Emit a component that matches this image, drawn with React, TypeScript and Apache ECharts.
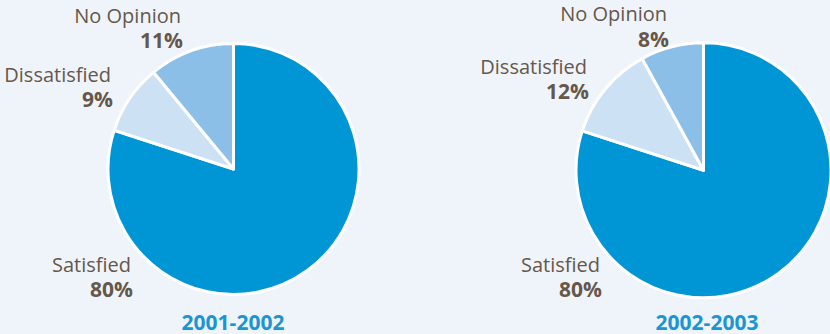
import React, { useEffect, useRef } from "react";
import * as echarts from "echarts";

const categories = ["Satisfied", "Dissatisfied", "No Opinion"];
const values2001 = [80, 9, 11];
const values2002 = [80, 12, 8];
const periods = ["2001-2002", "2002-2003"];

const colors = ["#0096d6", "#cde1f4", "#8bbfe7"];
const BG = "#eff4fb";
const TEXT = "#66574a";
const TITLE = "#1b95d3";

// layout for labels: [rightX, centerY] per category (two-line block)
const layouts = [
  {
    center: [233.5, 169],
    radius: 125.5,
    titleX: 233,
    pos: [
      [133, 276.5],
      [113, 86.5],
      [183, 27.5],
    ],
  },
  {
    center: [703.5, 170.3],
    radius: 127.5,
    titleX: 707,
    pos: [
      [602, 276.5],
      [589, 78.5],
      [669, 26],
    ],
  },
];

export default function App() {
  const ref = useRef<HTMLDivElement>(null);
  useEffect(() => {
    document.body.style.margin = "0";
    document.body.style.background = BG;
    const chart = echarts.init(ref.current!, null, { renderer: "svg" });
    const datasets = [values2001, values2002];
    const graphic: any[] = [];
    datasets.forEach((vals, si) => {
      const L = layouts[si];
      categories.forEach((c, i) => {
        const p = L.pos[i];
        graphic.push({
          type: "text",
          x: p[0],
          y: p[1],
          style: {
            text: `{a|${c}}\n{b|${vals[i]}%}`,
            fill: TEXT,
            textAlign: "right",
            textVerticalAlign: "middle",
            rich: {
              a: {
                fontFamily: "Open Sans",
                fontSize: 20,
                color: TEXT,
                lineHeight: 25,
                align: "right",
                padding: [0, 2, 0, 0],
              },
              b: {
                fontFamily: "Open Sans",
                fontWeight: "bold",
                fontSize: 21,
                color: TEXT,
                lineHeight: 25,
                align: "right",
              },
            },
          },
        });
      });
      graphic.push({
        type: "text",
        x: L.titleX,
        y: 321.5,
        style: {
          text: periods[si],
          fill: TITLE,
          fontFamily: "Open Sans",
          fontWeight: "bold",
          fontSize: 21,
          lineHeight: 22,
          textAlign: "center",
          textVerticalAlign: "middle",
        },
      });
    });
    chart.setOption({
      animation: false,
      backgroundColor: BG,
      color: colors,
      graphic,
      series: datasets.map((vals, si) => ({
        type: "pie",
        center: layouts[si].center,
        radius: layouts[si].radius,
        startAngle: 90,
        clockwise: true,
        label: { show: false },
        labelLine: { show: false },
        emphasis: { disabled: true },
        itemStyle: { borderColor: "#ffffff", borderWidth: 3 },
        data: categories.map((c, i) => ({ name: c, value: vals[i] })),
      })),
    });
    return () => chart.dispose();
  }, []);
  return <div ref={ref} style={{ width: 830, height: 334, background: BG }} />;
}
